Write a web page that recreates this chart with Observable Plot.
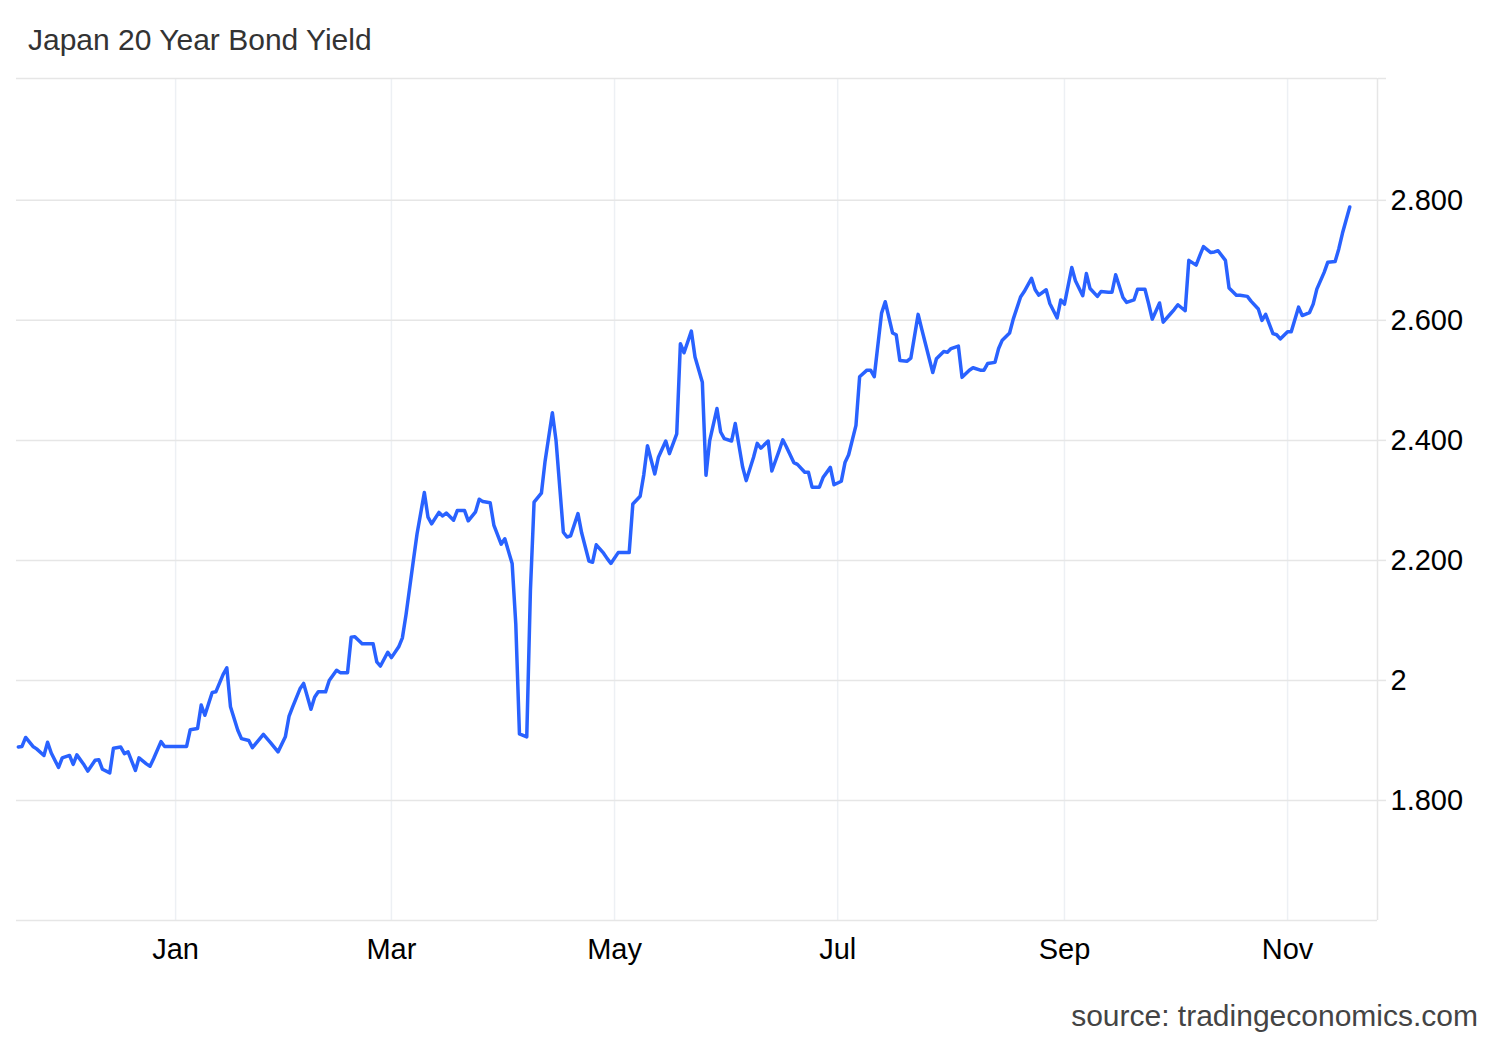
<!DOCTYPE html>
<html>
<head>
<meta charset="utf-8">
<script src="https://cdn.jsdelivr.net/npm/d3@7"></script>
<script src="https://cdn.jsdelivr.net/npm/@observablehq/plot@0.6"></script>
<style>
  html, body { margin: 0; padding: 0; background: #ffffff; }
  #wrap { position: relative; width: 1500px; height: 1040px; overflow: hidden; }
  .txt { position: absolute; font-family: "Liberation Sans", Arial, sans-serif; font-size: 30px; line-height: 30px; white-space: nowrap; }
  #title { left: 28px; top: 24.6px; color: #333333; }
  #source { right: 22px; top: 1000.6px; color: #444444; }
  #chart { position: absolute; left: 0; top: 60px; }
</style>
</head>
<body>
<div id="wrap">
  <div id="title" class="txt">Japan 20 Year Bond Yield</div>
  <div id="chart"></div>
  <div id="source" class="txt">source: tradingeconomics.com</div>
</div>
<script>
// ---- data ----
const dates = [
  "2024-11-19","2024-11-20","2024-11-21","2024-11-23","2024-11-24","2024-11-26","2024-11-27","2024-11-28","2024-11-30",
  "2024-12-01","2024-12-03","2024-12-04","2024-12-05","2024-12-07","2024-12-08","2024-12-10","2024-12-11","2024-12-12",
  "2024-12-14","2024-12-15","2024-12-17","2024-12-18","2024-12-19","2024-12-21","2024-12-22","2024-12-24","2024-12-25",
  "2024-12-26","2024-12-28","2024-12-29",
  "2025-01-01","2025-01-04","2025-01-05","2025-01-07","2025-01-08","2025-01-09","2025-01-11","2025-01-12","2025-01-14",
  "2025-01-15","2025-01-16","2025-01-18","2025-01-19","2025-01-21","2025-01-22","2025-01-25","2025-01-27","2025-01-29",
  "2025-01-31","2025-02-01","2025-02-02","2025-02-04","2025-02-05","2025-02-07","2025-02-08","2025-02-09","2025-02-11",
  "2025-02-12","2025-02-14","2025-02-15","2025-02-17","2025-02-18","2025-02-19","2025-02-21","2025-02-22","2025-02-24",
  "2025-02-25","2025-02-26","2025-02-28","2025-03-01","2025-03-03","2025-03-04","2025-03-05","2025-03-07","2025-03-08",
  "2025-03-10","2025-03-11","2025-03-12","2025-03-14","2025-03-15","2025-03-16","2025-03-18","2025-03-19","2025-03-21",
  "2025-03-22","2025-03-24","2025-03-25","2025-03-26","2025-03-28","2025-03-29","2025-03-31","2025-04-01","2025-04-03",
  "2025-04-04","2025-04-05","2025-04-07","2025-04-08","2025-04-09","2025-04-11","2025-04-12","2025-04-14","2025-04-15",
  "2025-04-17","2025-04-18","2025-04-19","2025-04-21","2025-04-22","2025-04-24","2025-04-25","2025-04-26","2025-04-28",
  "2025-04-29","2025-04-30","2025-05-02","2025-05-03","2025-05-05","2025-05-06","2025-05-08","2025-05-09","2025-05-10",
  "2025-05-12","2025-05-13","2025-05-15","2025-05-16","2025-05-18","2025-05-19","2025-05-20","2025-05-22","2025-05-23",
  "2025-05-25","2025-05-26","2025-05-27","2025-05-29","2025-05-30","2025-05-31","2025-06-02","2025-06-03","2025-06-05",
  "2025-06-06","2025-06-08","2025-06-09","2025-06-10","2025-06-12","2025-06-13","2025-06-15","2025-06-16","2025-06-17",
  "2025-06-19","2025-06-20","2025-06-22","2025-06-23","2025-06-24","2025-06-26","2025-06-27","2025-06-29","2025-06-30",
  "2025-07-02","2025-07-03","2025-07-04","2025-07-06","2025-07-07","2025-07-09","2025-07-10","2025-07-11","2025-07-13",
  "2025-07-14","2025-07-16","2025-07-17","2025-07-18","2025-07-20","2025-07-21","2025-07-23","2025-07-24","2025-07-25",
  "2025-07-27","2025-07-28","2025-07-30","2025-07-31","2025-08-01","2025-08-03","2025-08-04","2025-08-06","2025-08-07",
  "2025-08-09","2025-08-10","2025-08-11","2025-08-13","2025-08-14","2025-08-15","2025-08-17","2025-08-18","2025-08-20",
  "2025-08-21","2025-08-23","2025-08-24","2025-08-25","2025-08-27","2025-08-28","2025-08-30","2025-08-31","2025-09-01",
  "2025-09-03","2025-09-04","2025-09-06","2025-09-07","2025-09-08","2025-09-10","2025-09-11","2025-09-13","2025-09-14",
  "2025-09-15","2025-09-17","2025-09-18","2025-09-20","2025-09-21","2025-09-23","2025-09-24","2025-09-25","2025-09-27",
  "2025-09-28","2025-09-30","2025-10-01","2025-10-02","2025-10-04","2025-10-05","2025-10-07","2025-10-08","2025-10-09",
  "2025-10-11","2025-10-12","2025-10-13","2025-10-15","2025-10-16","2025-10-18","2025-10-19","2025-10-21","2025-10-22",
  "2025-10-24","2025-10-25","2025-10-26","2025-10-28","2025-10-29","2025-10-30","2025-11-01","2025-11-02","2025-11-04",
  "2025-11-05","2025-11-07","2025-11-08","2025-11-09","2025-11-11","2025-11-12","2025-11-14","2025-11-15","2025-11-16",
  "2025-11-18"
];
const yields = [
  1.889,1.890,1.905,1.890,1.886,1.875,1.897,1.879,1.855,
  1.871,1.875,1.860,1.876,1.859,1.849,1.867,1.868,1.852,
  1.846,1.887,1.889,1.878,1.881,1.850,1.871,1.861,1.857,
  1.870,1.898,1.890,
  1.890,1.890,1.918,1.920,1.959,1.942,1.980,1.981,2.010,
  2.021,1.956,1.917,1.903,1.900,1.888,1.910,1.896,1.881,
  1.906,1.940,1.956,1.986,1.995,1.952,1.972,1.981,1.981,
  2.000,2.017,2.013,2.013,2.072,2.073,2.061,2.061,2.061,
  2.031,2.024,2.047,2.038,2.056,2.071,2.110,2.200,2.244,
  2.313,2.272,2.261,2.280,2.274,2.279,2.267,2.283,2.283,
  2.266,2.281,2.302,2.298,2.296,2.259,2.227,2.236,2.195,
  2.094,1.911,1.906,2.150,2.297,2.312,2.365,2.446,2.400,
  2.247,2.239,2.241,2.278,2.246,2.199,2.197,2.226,2.212,
  2.203,2.195,2.213,2.213,2.213,2.294,2.307,2.343,2.391,
  2.344,2.372,2.399,2.378,2.411,2.561,2.546,2.582,2.539,
  2.497,2.342,2.399,2.453,2.414,2.403,2.399,2.428,2.356,
  2.333,2.372,2.395,2.387,2.399,2.349,2.383,2.401,2.389,
  2.363,2.360,2.347,2.347,2.322,2.322,2.338,2.355,2.326,
  2.332,2.363,2.376,2.425,2.506,2.517,2.517,2.506,2.612,
  2.631,2.579,2.576,2.533,2.532,2.537,2.610,2.585,2.561,
  2.513,2.536,2.548,2.547,2.553,2.557,2.505,2.517,2.521,
  2.517,2.517,2.528,2.530,2.553,2.567,2.579,2.602,2.639,
  2.648,2.670,2.651,2.642,2.651,2.628,2.604,2.634,2.627,
  2.688,2.666,2.641,2.678,2.653,2.640,2.648,2.647,2.647,
  2.676,2.638,2.630,2.634,2.652,2.652,2.628,2.602,2.629,
  2.597,2.611,2.618,2.626,2.616,2.700,2.692,2.708,2.723,
  2.713,2.714,2.716,2.700,2.654,2.642,2.642,2.640,2.632,
  2.619,2.600,2.610,2.578,2.576,2.569,2.581,2.581,2.622,
  2.608,2.613,2.627,2.652,2.680,2.697,2.698,2.719,2.745,
  2.789
];
const monthTicks = ["2025-01-01","2025-03-01","2025-05-01","2025-07-01","2025-09-01","2025-11-01"];
const monthLabels = ["Jan","Mar","May","Jul","Sep","Nov"];
const yTicks = [1.8, 2.0, 2.2, 2.4, 2.6, 2.8];
const yTickLabels = ["1.800","2","2.200","2.400","2.600","2.800"];
const xDomain = ["2024-11-18T12:00:00Z","2025-11-25T14:00:00Z"];
const yDomain = [1.6, 3.003];

// ---- build ----
const data = dates.map((d, i) => ({date: new Date(d), value: yields[i]}));
const tickDates = monthTicks.map(d => new Date(d));
const xd = xDomain.map(d => new Date(d));
const gridColor = "#e6e6e6";
const vGridColor = "#edf0f4";

const chart = Plot.plot({
  width: 1500,
  height: 920,
  marginTop: 18,
  marginBottom: 60,
  marginLeft: 16,
  marginRight: 123,
  style: {fontFamily: "'Liberation Sans', Arial, sans-serif", fontSize: "29px", background: "transparent", color: "#000", overflow: "visible"},
  x: {type: "utc", domain: xd},
  y: {domain: yDomain},
  marks: [
    Plot.ruleX(tickDates, {stroke: vGridColor, strokeWidth: 1.5}),
    Plot.ruleY(yTicks, {stroke: gridColor, strokeWidth: 1.5}),
    Plot.ruleY(yDomain, {stroke: gridColor, strokeWidth: 1.5}),
    Plot.ruleX([xd[1]], {stroke: gridColor, strokeWidth: 1.5}),
    Plot.axisY([...yTicks, yDomain[1]], {
      anchor: "right", label: null, tickSize: 8, tickPadding: 5,
      stroke: gridColor, strokeWidth: 1.5, fill: "#000",
      tickFormat: d => { const i = yTicks.indexOf(d); return i >= 0 ? yTickLabels[i] : ""; }
    }),
    Plot.axisX(tickDates, {
      anchor: "bottom", label: null, tickSize: 0, tickPadding: 18, fill: "#000",
      tickFormat: d => monthLabels[tickDates.findIndex(t => +t === +d)]
    }),
    Plot.lineY(data, {x: "date", y: "value", stroke: "#2962ff", strokeWidth: 3.5, strokeLinejoin: "round", strokeLinecap: "round"})
  ]
});
document.getElementById("chart").appendChild(chart);
</script>
</body>
</html>
